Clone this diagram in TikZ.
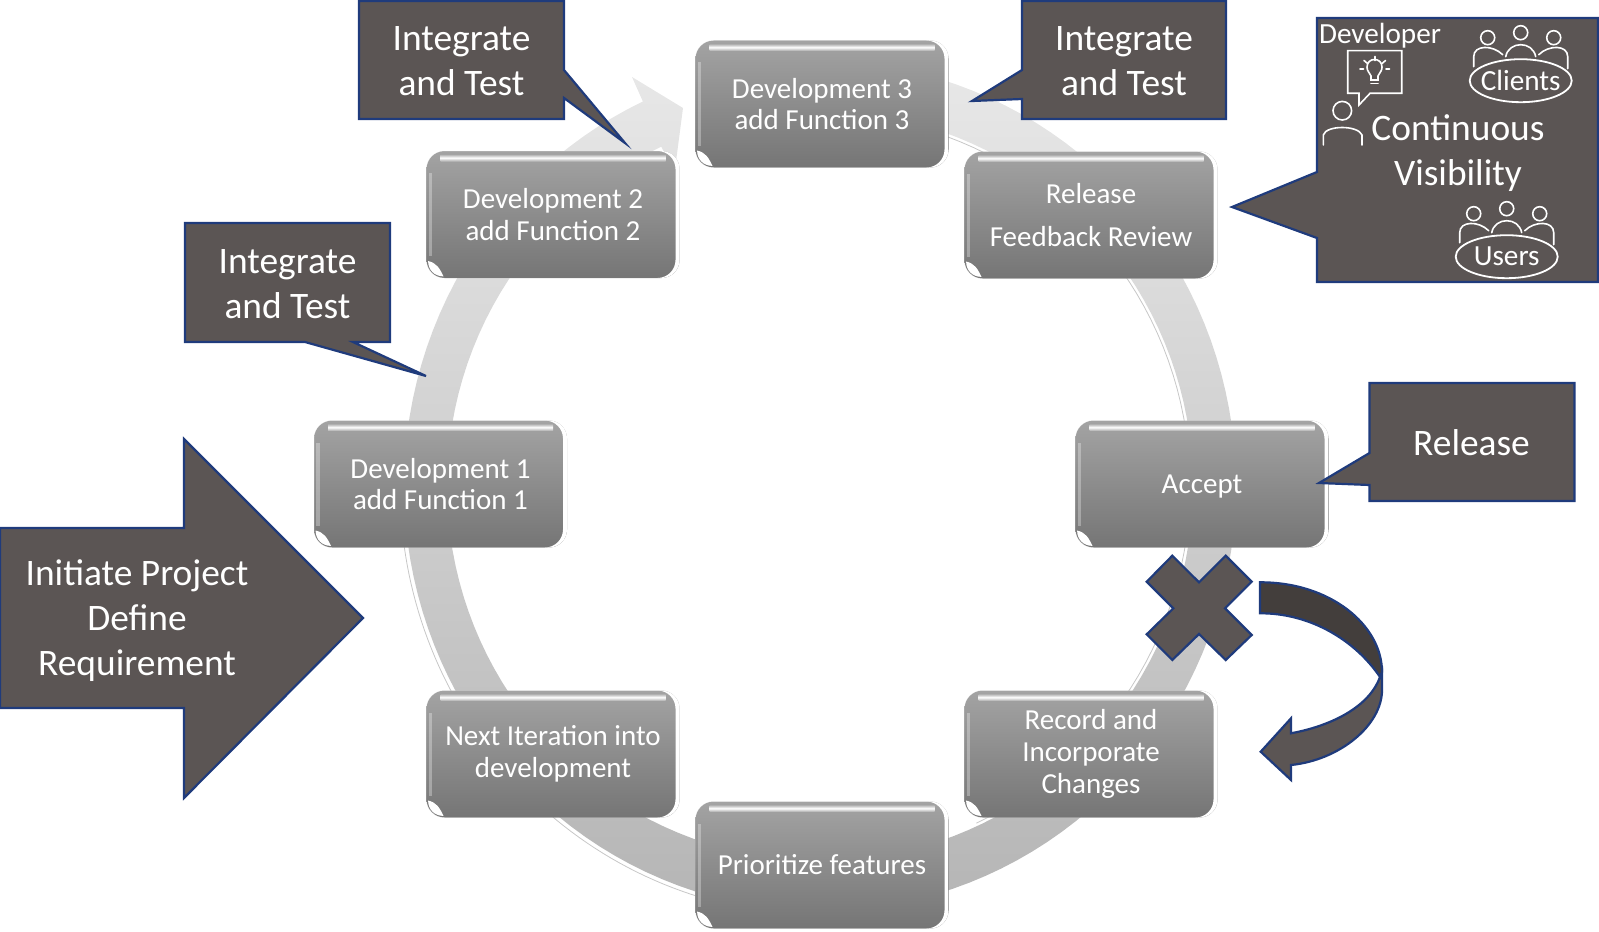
\documentclass[tikz,border=0pt]{standalone}
\usepackage{fontspec}
\setmainfont{Carlito}
\usepackage{tikz}
\usetikzlibrary{shapes.geometric}
\definecolor{notefill}{HTML}{5B5554}
\definecolor{noteline}{HTML}{1F3B7C}
\definecolor{foldfill}{HTML}{433E3C}
\colorlet{stagetop}{black!36}
\colorlet{stagebot}{black!54}
\tikzset{
  trio/.pic={
    \foreach \hx/\hy in {-33/-43, 0/-48, 33/-43}
      \draw[icon] (\hx,\hy) circle[radius=7];
    \draw[icon] (-47,-14) -- (-47,-24) .. controls (-47,-36) and (-28,-36) .. (-18,-26);
    \draw[icon] (-15,-24) .. controls (-12,-40) and (12,-40) .. (15,-24);
    \draw[icon] (18,-26) .. controls (28,-36) and (47,-36) .. (47,-24) -- (47,-12);
  }
}

\begin{document}
\begin{tikzpicture}[
    x=0.5pt, y=-0.5pt,
    stage/.style={rectangle, rounded corners=9pt, inner sep=0pt,
      minimum width=126.5pt, minimum height=63.5pt, align=center,
      top color=stagetop, bottom color=stagebot, text=white,
      font=\fontsize{14.5}{15.8}\selectfont,
      path picture={
        \coordinate (sw) at (path picture bounding box.south west);
        \fill[white, opacity=0.3, sharp corners] ([xshift=1.2pt,yshift=-11pt]path picture bounding box.north west)
          rectangle ([xshift=2.8pt,yshift=11pt]sw);
        \shade[top color=black!30, bottom color=black!30, middle color=white, sharp corners]
          ([xshift=7pt,yshift=-1.8pt]path picture bounding box.north west)
          rectangle ([xshift=-7pt,yshift=-5pt]path picture bounding box.north east);
        \fill[white, sharp corners] ([xshift=0.8pt,yshift=8.5pt]sw)
          .. controls ([xshift=0.8pt,yshift=4pt]sw) and ([xshift=4pt,yshift=0.8pt]sw) .. ([xshift=8.5pt,yshift=0.8pt]sw)
          .. controls ([xshift=6.5pt,yshift=5pt]sw) and ([xshift=5pt,yshift=7.5pt]sw) .. cycle;
        \fill[white, even odd rule, sharp corners]
          (sw) rectangle (path picture bounding box.north east)
          [rounded corners=9pt] (sw)
          rectangle ([xshift=-2pt]path picture bounding box.north east);
      }},
    note/.style={fill=notefill, draw=noteline, line width=1.1pt, line join=miter},
    notetext/.style={inner sep=0pt, align=center, text=white, font=\fontsize{18.7}{22.5}\selectfont},
    icon/.style={draw=white, line width=0.8pt, line cap=round},
    ringline/.style={draw=black!22, line width=0.4pt},
    group/.style={ellipse, draw=white, line width=0.9pt, fill=notefill, inner sep=-3pt,
      minimum width=51pt, minimum height=21.5pt, text=white, font=\fontsize{14.6}{16}\selectfont}
  ]
    \useasboundingbox (0,0) rectangle (1599,931);

    % big ring behind the stages, one head at the top left
    \shade[top color=black!9, bottom color=black!29]
      plot[domain=270:604.8, samples=140] ({820+416*cos(\x)},{486+425*sin(\x)})
      -- (632,77) -- (683,108) -- (675,169) -- (663,150)
      -- plot[domain=604.8:270, samples=140] ({820+373*cos(\x)},{486+375*sin(\x)}) -- cycle;
    \draw[ringline] plot[domain=-70:65, samples=60] ({820+370*cos(\x)},{486+372*sin(\x)});
    \draw[ringline] plot[domain=95:172, samples=60] ({820+420*cos(\x)},{486+429*sin(\x)});

    % stages
    \node[stage] (dev3) at (822,104) {Development 3\\add Function 3};
    \node[stage] (rel)  at (1091,215) {Release\\[6pt]Feedback Review};
    \node[stage, text height=11.5pt] (acc) at (1202,484) {Accept};
    \node[stage] (rec)  at (1091,754) {Record and\\Incorporate\\Changes};
    \node[stage] (pri)  at (822,865) {Prioritize features};
    \node[stage] (nxt)  at (553,754) {Next Iteration into\\development};
    \node[stage] (dev1) at (440.5,484) {Development 1\\add Function 1};
    \node[stage] (dev2) at (553,214.5) {Development 2\\add Function 2};

    % start arrow
    \draw[note] (0,528) -- (184,528) -- (184,439) -- (363,618) -- (184,798) -- (184,708) -- (0,708) -- cycle;
    \node[notetext] (init) at (137,621) {Initiate Project\\Define\\Requirement};

    % callouts
    \draw[note] (359,1) -- (564,1) -- (564,70) -- (625,143) -- (564,98) -- (564,119) -- (359,119) -- cycle;
    \node[notetext] (test2) at (461.5,61) {Integrate\\and Test};
    \draw[note] (185,223) -- (390,223) -- (390,342) -- (353,342) -- (426,376) -- (305,342) -- (185,342) -- cycle;
    \node[notetext] (test1) at (287.5,284) {Integrate\\and Test};
    \draw[note] (1022,1) -- (1226,1) -- (1226,119) -- (1022,119) -- (1022,99) -- (972,101) -- (1022,70) -- cycle;
    \node[notetext] (test3) at (1124,61) {Integrate\\and Test};
    \draw[note] (1369.5,383) -- (1574.5,383) -- (1574.5,501) -- (1369.5,501) -- (1369.5,485) -- (1319,483) -- (1369.5,453) -- cycle;
    \node[notetext] (done) at (1471.5,443) {Release};
    \draw[note] (1317,18) -- (1598,18) -- (1598,282) -- (1317,282) -- (1317,238) -- (1232,207) -- (1317,172) -- cycle;
    \node[notetext] (vis) at (1458,153) {Continuous\\Visibility};

    % developer with the idea bubble
    \node[inner sep=0pt, text=white, font=\fontsize{14.6}{16}\selectfont] (devlab) at (1380,36) {Developer};
    \draw[icon] (1347.7,50.7) -- (1401.7,50.7) -- (1401.7,93.3) -- (1370,93.3) -- (1359,105) -- (1359,93.3) -- (1347.7,93.3) -- cycle;
    \draw[icon] (1371,80) -- (1371,76) .. controls (1369,72) and (1367,71) .. (1367,67)
      .. controls (1367,57) and (1382,57) .. (1382,67) .. controls (1382,71) and (1380,72) .. (1378,76) -- (1378,80) -- cycle;
    \draw[icon] (1371,83.5) -- (1378,83.5);
    \foreach \ax/\ay/\bx/\by in {1374.7/56.5/1374.7/60.5, 1364/60.5/1367.5/63.5, 1385.5/60.5/1382/63.5, 1360/69/1363.5/69, 1386/69/1389.5/69}
      \draw[icon] (\ax,\ay) -- (\bx,\by);
    \draw[icon] (1342.3,110.7) circle[radius=9.3];
    \draw[icon] (1323.3,145) -- (1323.3,135) .. controls (1326,125) and (1358,125) .. (1362,135) -- (1362,145);

    % audience groups
    \pic at (1520.7,80.7) {trio};
    \node[group] (clients) at (1520.7,80.7) {Clients};
    \pic at (1506.7,256.7) {trio};
    \node[group] (users) at (1506.7,256.7) {Users};

    % reject mark and the way back
    \draw[note] (1172.3,555.7) -- (1199,582.3) -- (1225.7,555.7) -- (1251.7,581.7) -- (1225,608.3) -- (1251.7,635)
      -- (1225.7,660) -- (1199,634) -- (1172.3,660) -- (1146.7,634.3) -- (1173.3,608.3) -- (1146.7,581.7) -- cycle;
    \draw[note] (1291,733.3) .. controls (1335,725) and (1370,705) .. (1380,677) -- (1382,672) -- (1382,690)
      .. controls (1382,725) and (1340,760) .. (1291,765) -- (1291,780) -- (1260.7,751.7) -- (1291,718.3) -- cycle;
    \draw[note, fill=foldfill] (1260,582.3) .. controls (1330,582) and (1382,625) .. (1382,672) -- (1380,677)
      .. controls (1355,640) and (1310,613) .. (1260,613.3) -- cycle;
  \end{tikzpicture}
\end{document}
